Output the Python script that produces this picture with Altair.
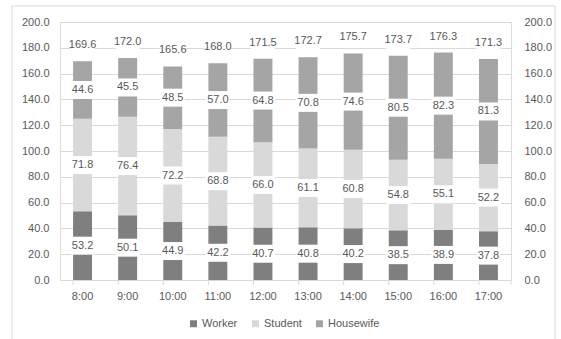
import altair as alt
import pandas as pd

times = ["8:00", "9:00", "10:00", "11:00", "12:00", "13:00", "14:00", "15:00", "16:00", "17:00"]
series = ["Worker", "Student", "Housewife"]
worker = [53.2, 50.1, 44.9, 42.2, 40.7, 40.8, 40.2, 38.5, 38.9, 37.8]
student = [71.8, 76.4, 72.2, 68.8, 66.0, 61.1, 60.8, 54.8, 55.1, 52.2]
housewife = [44.6, 45.5, 48.5, 57.0, 64.8, 70.8, 74.6, 80.5, 82.3, 81.3]
totals = [169.6, 172.0, 165.6, 168.0, 171.5, 172.7, 175.7, 173.7, 176.3, 171.3]
colors = ["#7f7f7f", "#d9d9d9", "#a5a5a5"]

rows = []
for i, t in enumerate(times):
    base = 0.0
    for k, (s, vals) in enumerate(zip(series, [worker, student, housewife])):
        v = vals[i]
        rows.append({"time": t, "series": s, "value": v, "order": k, "mid": base + v / 2})
        base += v
df = pd.DataFrame(rows)
tot = pd.DataFrame({"time": times, "total": totals})
frame = pd.DataFrame({"f": [0]})

FONT = "Liberation Sans"
TXT = "#595959"
GRID = "#d9d9d9"
W, H = 451, 258

xscale = alt.Scale(domain=times, paddingInner=0.58, paddingOuter=0.29)
yscale = alt.Scale(domain=[0, 200], nice=False)

bars = alt.Chart(df).mark_bar().encode(
    x=alt.X("time:N", sort=times, scale=xscale,
            axis=alt.Axis(title=None, labelAngle=0, ticks=False, domain=True, domainColor=GRID,
                          labelPadding=10, labelFont=FONT, labelFontSize=11, labelColor=TXT, grid=False)),
    y=alt.Y("value:Q", stack="zero", scale=yscale,
            axis=alt.Axis(title=None, values=list(range(0, 201, 20)), format=".1f", grid=True,
                          gridColor=GRID, domain=False, ticks=False, labelPadding=11,
                          labelFont=FONT, labelFontSize=11, labelColor=TXT)),
    color=alt.Color("series:N", scale=alt.Scale(domain=series, range=colors),
                    legend=alt.Legend(title=None, orient="none", legendX=128, legendY=296,
                                      direction="horizontal", symbolType="square", symbolSize=49,
                                      symbolStrokeWidth=0, labelFont=FONT, labelFontSize=11,
                                      labelColor=TXT, columnPadding=12, labelOffset=3)),
    order=alt.Order("order:Q", sort="ascending"),
)

box_shape = "M-1,-0.75L1,-0.75L1,0.75L-1,0.75Z"
boxes = alt.Chart(df).mark_point(shape=box_shape, filled=True, color="white", opacity=1,
                                 size=576, strokeWidth=0).encode(
    x=alt.X("time:N", sort=times, scale=xscale, axis=None),
    y=alt.Y("mid:Q", scale=yscale, axis=None),
)
labels = alt.Chart(df).mark_text(font=FONT, fontSize=11, color=TXT, baseline="middle").encode(
    x=alt.X("time:N", sort=times, scale=xscale, axis=None),
    y=alt.Y("mid:Q", scale=yscale, axis=None),
    text=alt.Text("value:Q", format=".1f"),
)

tbox_shape = "M-1,-2.08L1,-2.08L1,-0.58L-1,-0.58Z"
tboxes = alt.Chart(tot).mark_point(shape=tbox_shape, filled=True, color="white", opacity=1,
                                   size=576, strokeWidth=0).encode(
    x=alt.X("time:N", sort=times, scale=xscale, axis=None),
    y=alt.Y("total:Q", scale=yscale, axis=None),
)
tlabels = alt.Chart(tot).mark_text(font=FONT, fontSize=11, color=TXT, baseline="middle", dy=-16).encode(
    x=alt.X("time:N", sort=times, scale=xscale, axis=None),
    y=alt.Y("total:Q", scale=yscale, axis=None),
    text=alt.Text("total:Q", format=".1f"),
)

xticks = alt.Chart(tot).mark_rule(color=GRID).encode(
    x=alt.X("time:N", sort=times, scale=xscale, bandPosition=0, axis=None),
    y=alt.value(H), y2=alt.value(H + 5),
)
endtick = alt.Chart(frame).mark_rule(color=GRID).encode(
    x=alt.value(W), y=alt.value(H), y2=alt.value(H + 5),
)

right_axis = alt.Chart(tot).mark_point(opacity=0).encode(
    x=alt.X("time:N", sort=times, scale=xscale, axis=None),
    y=alt.Y("total:Q", scale=yscale,
            axis=alt.Axis(orient="right", title=None, values=list(range(0, 201, 20)), format=".1f",
                          grid=False, domain=False, ticks=False, labelPadding=13,
                          labelFont=FONT, labelFontSize=11, labelColor=TXT)),
)

border = alt.Chart(frame).mark_rect(fillOpacity=0, stroke=GRID, strokeWidth=1).encode(
    x=alt.value(-48), x2=alt.value(495), y=alt.value(-16), y2=alt.value(330),
)

chart = alt.layer(
    border, bars, xticks, endtick, boxes, labels, tboxes, tlabels, right_axis
).resolve_axis(y="independent", x="independent").properties(
    width=W, height=H,
    autosize=alt.AutoSizeParams(type="none"),
    padding={"left": 60, "top": 22, "right": 50, "bottom": 59},
).configure_view(stroke=None).configure(background="white")

chart.save("out.html", embed_options={"renderer": "svg", "actions": False})
